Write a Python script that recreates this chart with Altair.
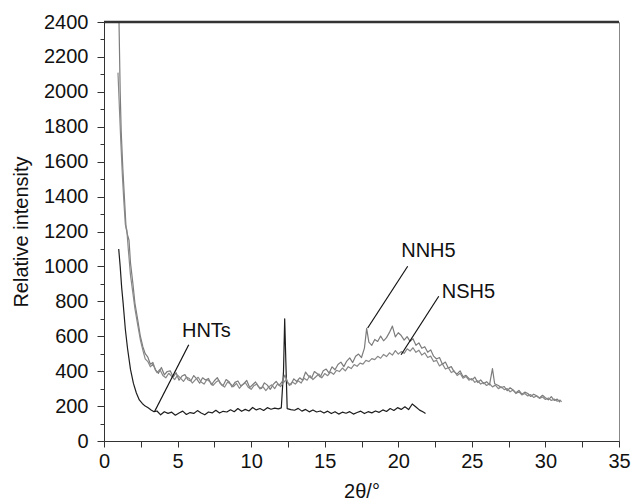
import altair as alt
import pandas as pd

# ---------------- data ----------------
HNT_X = [1.0, 1.1, 1.2, 1.3, 1.45, 1.6, 1.8, 2.0, 2.2, 2.4, 2.6, 2.8, 3.0, 3.2, 3.4,
         3.6, 3.85, 4.1, 4.35, 4.6, 4.85, 5.1, 5.35, 5.6, 5.85, 6.1, 6.35, 6.6, 6.85,
         7.1, 7.35, 7.6, 7.85, 8.1, 8.35, 8.6, 8.85, 9.1, 9.35, 9.6, 9.85, 10.1, 10.35,
         10.6, 10.85, 11.1, 11.35, 11.6, 11.85, 12.05, 12.2, 12.28, 12.36, 12.45, 12.7,
         12.95, 13.2, 13.45, 13.7, 13.95, 14.2, 14.45, 14.7, 14.95, 15.2, 15.45, 15.7,
         15.95, 16.2, 16.45, 16.7, 16.95, 17.2, 17.45, 17.7, 17.95, 18.2, 18.45, 18.7,
         18.95, 19.2, 19.45, 19.7, 19.95, 20.2, 20.45, 20.7, 20.95, 21.2, 21.45, 21.7, 21.85]
HNT_Y = [1100, 1000, 880, 790, 640, 530, 410, 330, 275, 235, 215, 200, 190, 178, 168,
         172, 150, 168, 158, 165, 148, 160, 171, 152, 163, 158, 174, 160, 150,
         166, 161, 176, 160, 170, 166, 179, 168, 186, 170, 181, 172, 192, 178,
         186, 175, 191, 182, 188, 184, 190, 400, 700, 450, 185, 180,
         176, 187, 171, 181, 167, 178, 166, 172, 160, 171, 157, 168,
         154, 165, 159, 168, 154, 163, 171, 157, 168, 161, 172, 164,
         178, 169, 186, 175, 191, 181, 196, 180, 212, 195, 177, 166, 158]

NNH5_X = [1.0, 1.1, 1.17, 1.28, 1.39, 1.5, 1.6, 1.7, 1.8, 1.96, 2.1, 2.3, 2.47, 2.64,
          2.8, 2.98, 3.15, 3.32,
          3.5, 3.7, 3.9, 4.1, 4.3, 4.5, 4.7, 4.9, 5.1, 5.3, 5.5, 5.7, 5.9, 6.1, 6.3,
          6.5, 6.7, 6.9, 7.1, 7.3, 7.5, 7.7, 7.9, 8.1, 8.3, 8.5, 8.7, 8.9, 9.1, 9.3,
          9.5, 9.7, 9.9, 10.1, 10.3, 10.5, 10.7, 10.9, 11.1, 11.3, 11.5, 11.7, 11.9,
          12.1, 12.3, 12.5, 12.7, 12.9, 13.1, 13.3, 13.5, 13.7, 13.9, 14.1, 14.3,
          14.5, 14.7, 14.9, 15.1, 15.3, 15.5, 15.7, 15.9, 16.1, 16.3, 16.5, 16.7,
          16.9, 17.1, 17.3, 17.5, 17.7, 17.85, 18.0, 18.2, 18.4, 18.6, 18.8, 19.0,
          19.2, 19.4, 19.6, 19.8, 20.0, 20.2, 20.4, 20.6, 20.8, 21.0, 21.2, 21.4,
          21.6, 21.8, 22.0, 22.2, 22.4, 22.6, 22.8, 23.0, 23.2, 23.4, 23.6, 23.8,
          24.0, 24.2, 24.4, 24.6, 24.8, 25.0, 25.2, 25.4, 25.6, 25.8, 26.0, 26.2,
          26.4, 26.55, 26.8, 27.0, 27.2, 27.4, 27.6, 27.8, 28.0, 28.2, 28.4, 28.6,
          28.8, 29.0, 29.2, 29.4, 29.6, 29.8, 30.0, 30.2, 30.4, 30.6, 30.8, 31.0]
NNH5_Y = [2500, 2000, 1770, 1560, 1390, 1220, 1180, 1150, 1020, 905, 790, 690, 600, 540,
          500, 480, 440, 450,
          405, 388, 421, 379, 398, 402, 366, 391, 348, 372, 380, 351, 344, 375, 356,
          331, 362, 349, 358, 322, 345, 363, 330, 318, 352, 340, 309, 336, 344, 315,
          328, 347, 306, 322, 338, 311, 301, 333, 320, 296, 324, 341, 318,
          338, 378, 331, 322, 356, 341, 362, 348, 395, 372, 360, 398,
          385, 366, 402, 412, 389, 425, 408, 438, 452, 426, 458, 476,
          449, 485, 498, 478, 532, 645, 566, 548, 582, 570, 601, 574,
          592, 622, 658, 596, 620, 604, 578, 598, 571, 586, 548, 562,
          531, 540, 508, 522, 486, 470, 478, 440, 452, 418, 426, 396,
          384, 402, 368, 376, 358, 349, 366, 335, 350, 328, 340, 322,
          415, 328, 318, 306, 312, 288, 305, 292, 276, 290, 268, 280,
          272, 255, 268, 259, 246, 262, 248, 236, 254, 232, 240, 222]

NSH5_X = [0.95, 1.05, 1.15, 1.25, 1.35, 1.45, 1.55, 1.65, 1.8, 1.96, 2.1, 2.3, 2.47,
          2.64, 2.8, 2.98, 3.15, 3.32,
          3.6, 3.8, 4.0, 4.2, 4.4, 4.6, 4.8, 5.0, 5.2, 5.4, 5.6, 5.8, 6.0, 6.2, 6.4,
          6.6, 6.8, 7.0, 7.2, 7.4, 7.6, 7.8, 8.0, 8.2, 8.4, 8.6, 8.8, 9.0, 9.2, 9.4,
          9.6, 9.8, 10.0, 10.2, 10.4, 10.6, 10.8, 11.0, 11.2, 11.4, 11.6, 11.8, 12.0,
          12.2, 12.4, 12.6, 12.8, 13.0, 13.2, 13.4, 13.6, 13.8, 14.0, 14.2, 14.4,
          14.6, 14.8, 15.0, 15.2, 15.4, 15.6, 15.8, 16.0, 16.2, 16.4, 16.6, 16.8,
          17.0, 17.2, 17.4, 17.6, 17.8, 18.0, 18.2, 18.4, 18.6, 18.8, 19.0, 19.2,
          19.4, 19.6, 19.8, 20.0, 20.2, 20.4, 20.6, 20.8, 21.0, 21.2, 21.4, 21.6,
          21.8, 22.0, 22.2, 22.4, 22.6, 22.8, 23.0, 23.2, 23.4, 23.6, 23.8, 24.0,
          24.2, 24.4, 24.6, 24.8, 25.0, 25.2, 25.4, 25.6, 25.8, 26.0, 26.2, 26.4,
          26.6, 26.8, 27.0, 27.2, 27.4, 27.6, 27.8, 28.0, 28.2, 28.4, 28.6, 28.8,
          29.0, 29.2, 29.4, 29.6, 29.8, 30.0, 30.2, 30.4, 30.6, 30.8, 31.0, 31.1]
NSH5_Y = [2110, 1900, 1700, 1520, 1370, 1240, 1210, 1100, 950, 850, 760, 660, 580,
          520, 470, 455, 425, 440,
          392, 410, 375, 362, 388, 370, 352, 377, 360, 341, 366, 358, 332, 350, 365,
          338, 326, 352, 340, 318, 336, 348, 320, 309, 338, 326, 312, 330, 302, 321,
          335, 308, 296, 318, 326, 298, 312, 289, 310, 322, 300, 328, 312,
          335, 352, 318, 338, 326, 345, 332, 360, 348, 375, 352, 368,
          384, 362, 386, 374, 395, 382, 405, 398, 418, 402, 426, 415,
          438, 428, 446, 440, 462, 455, 472, 466, 485, 474, 496, 484,
          505, 492, 518, 498, 512, 502, 528, 515, 534, 508, 520, 492,
          505, 478, 486, 455, 462, 430, 442, 412, 420, 392, 401, 375,
          388, 360, 370, 348, 358, 336, 345, 326, 335, 318, 328, 310,
          320, 300, 310, 294, 300, 282, 292, 272, 282, 264, 272, 258,
          266, 250, 258, 244, 252, 238, 246, 232, 240, 228, 234, 224]

LABELS = ["HNTs", "NNH5", "NSH5"]
LABEL_X = [5.3, 20.2, 22.95]
LABEL_Y = [630, 1090, 855]
POINTER_X = [5.76, 20.64, 22.75]
POINTER_Y = [551, 1001, 829]
POINTER_X2 = [3.43, 17.92, 20.19]
POINTER_Y2 = [168, 647, 494]

X_TICKS = [0, 2.5, 5, 7.5, 10, 12.5, 15, 17.5, 20, 22.5, 25, 27.5, 30, 32.5, 35]
Y_TICKS = [0, 100, 200, 300, 400, 500, 600, 700, 800, 900, 1000, 1100, 1200, 1300,
           1400, 1500, 1600, 1700, 1800, 1900, 2000, 2100, 2200, 2300, 2400]
X_MIN, X_MAX, Y_MAX = 0, 35, 2400

# ---------------- tables ----------------
rows = []
for name, xs, ys in [("HNTs", HNT_X, HNT_Y), ("NNH5", NNH5_X, NNH5_Y), ("NSH5", NSH5_X, NSH5_Y)]:
    for i, (a, b) in enumerate(zip(xs, ys)):
        rows.append({"series": name, "idx": i, "x": a, "y": b})
df = pd.DataFrame(rows)

ann = pd.DataFrame({"label": LABELS, "lx": LABEL_X, "ly": LABEL_Y,
                    "px": POINTER_X, "py": POINTER_Y,
                    "px2": POINTER_X2, "py2": POINTER_Y2})
frame = pd.DataFrame({"fx": [X_MIN], "fx2": [X_MAX], "fy": [Y_MAX]})

FONT = "Liberation Sans"

xscale = alt.Scale(domain=[X_MIN, X_MAX], nice=False, zero=False)
yscale = alt.Scale(domain=[0, Y_MAX], nice=False)

xaxis = alt.Axis(values=X_TICKS, labelExpr="datum.value % 5 == 0 ? datum.label : ''",
                 title="2θ/°", grid=False, ticks=True, tickSize=6, tickWidth=1,
                 labelPadding=4, labelFlush=False, labelOverlap=False,
                 labelFontSize=20, titleFontSize=20, titleFontWeight="normal",
                 titlePadding=10, domainColor="#333", tickColor="#333",
                 labelColor="#111", titleColor="#111", labelFont=FONT, titleFont=FONT)
yaxis = alt.Axis(values=Y_TICKS, labelExpr="datum.value % 200 == 0 ? datum.label : ''",
                 format="d", title="Relative intensity", grid=False, ticks=True,
                 tickSize={"condition": {"test": "datum.value % 200 === 0", "value": 7}, "value": 4},
                 tickWidth=1, labelPadding=9, labelFlush=False,
                 labelOverlap=False, labelFontSize=20, titleFontSize=20,
                 titleFontWeight="normal", titlePadding=12, domainColor="#333",
                 tickColor="#333", labelColor="#111", titleColor="#111",
                 labelFont=FONT, titleFont=FONT)

lines = alt.Chart(df).mark_line(clip=True, strokeWidth=1.2, strokeJoin="round").encode(
    x=alt.X("x:Q", scale=xscale, axis=xaxis),
    y=alt.Y("y:Q", scale=yscale, axis=yaxis),
    detail="series:N",
    order="idx:Q",
    color=alt.Color("series:N", legend=None,
                    scale=alt.Scale(domain=["HNTs", "NNH5", "NSH5"],
                                    range=["#1e1e1e", "#7c7c7c", "#888888"])),
)

top_line = alt.Chart(frame).mark_rule(color="#333", strokeWidth=2.5).encode(
    x=alt.X("fx:Q", scale=xscale, axis=xaxis), x2="fx2:Q",
    y=alt.Y("fy:Q", scale=yscale, axis=yaxis))

pointers = alt.Chart(ann).mark_rule(color="#111", strokeWidth=1.2).encode(
    x=alt.X("px:Q", scale=xscale, axis=xaxis), y=alt.Y("py:Q", scale=yscale, axis=yaxis),
    x2="px2:Q", y2="py2:Q")

texts = alt.Chart(ann).mark_text(align="left", baseline="middle", fontSize=20,
                                 font=FONT, color="#111").encode(
    x=alt.X("lx:Q", scale=xscale, axis=xaxis), y=alt.Y("ly:Q", scale=yscale, axis=yaxis),
    text="label:N")

chart = alt.layer(lines, top_line, pointers, texts).properties(
    width=515, height=419,
    autosize=alt.AutoSizeParams(type="none"),
    padding={"left": 104, "top": 22, "right": 13, "bottom": 62},
).configure(background="white").configure_view(stroke="#888", strokeWidth=1)

chart.save("out.html", embed_options={"renderer": "svg", "actions": False})
